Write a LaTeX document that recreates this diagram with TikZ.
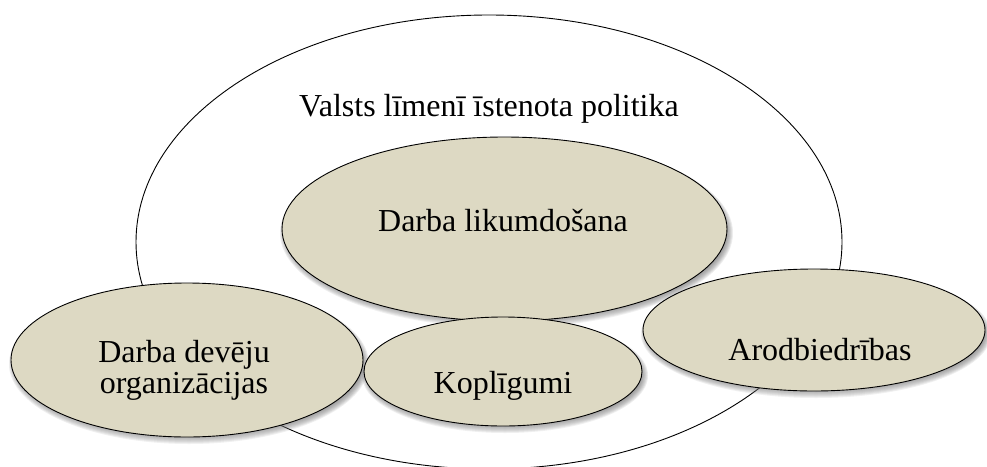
\documentclass[tikz,border=0pt]{standalone}
\usepackage{fontspec}
\setmainfont{Liberation Serif}
\usetikzlibrary{shapes.geometric}
\definecolor{sand}{HTML}{DDD9C3}
\definecolor{shade}{RGB}{80,80,130}

% soft shadow under an ellipse: centre x, centre y, radius x, radius y
\newcommand{\blobshadow}[4]{%
  \foreach \s in {0,1,...,7}
    \fill[shade,opacity=0.06] (#1+2,#2+4) ellipse [x radius={(#3+4-\s)*1pt}, y radius={(#4+3-\s)*1pt}];
}

\begin{document}
\begin{tikzpicture}[x=1pt,y=-1pt,
  blob/.style={ellipse,draw,line width=0.9pt,fill=sand,inner sep=0pt},
  txt/.style={font=\fontsize{32}{31}\selectfont,align=center}]

\useasboundingbox (0,0) rectangle (987,466);

% State level policy
\node[ellipse,draw,line width=0.9pt,fill=white,inner sep=0pt,
  minimum width=706pt,minimum height=454pt] (state) at (489,242) {};

% Circles inside
\blobshadow{504.5}{229}{222.5}{92}
\node[blob,minimum width=445pt,minimum height=184pt] (law) at (504.5,229) {};
\blobshadow{187}{360}{176}{77}
\node[blob,minimum width=352pt,minimum height=154pt] (empl) at (187,360) {};
\blobshadow{503}{371.5}{139}{54.5}
\node[blob,minimum width=278pt,minimum height=109pt] (agree) at (503,371.5) {};
\blobshadow{814}{330}{171}{61}
\node[blob,minimum width=342pt,minimum height=122pt] (union) at (814,330) {};

% Labels
\node[txt,anchor=base] (statet) at (489,116) {Valsts līmenī īstenota politika};
\node[txt,anchor=base] (lawt) at (503,231) {Darba likumdošana};
\node[txt] (emplt) at (184,370) {Darba devēju\\organizācijas};
\node[txt,anchor=base] (agreet) at (503,393) {Koplīgumi};
\node[txt,anchor=base] (uniont) at (820,360) {Arodbiedrības};

\end{tikzpicture}
\end{document}
